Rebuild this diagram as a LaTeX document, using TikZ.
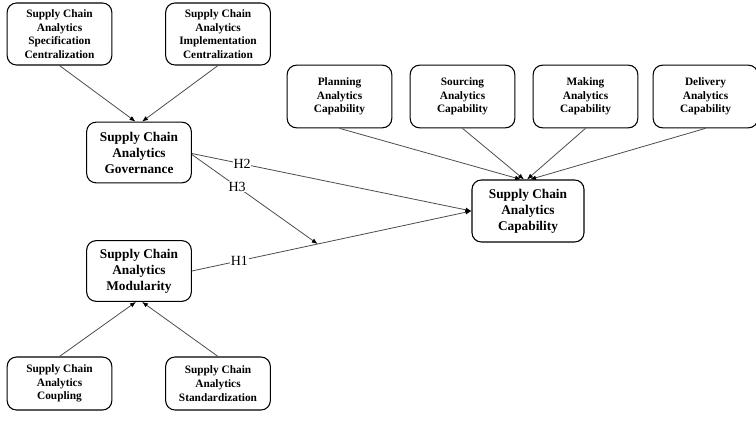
\documentclass[tikz,border=0pt]{standalone}
\usepackage{fontspec}
\setmainfont{Liberation Serif}
\usetikzlibrary{calc, arrows.meta}

\tikzset{
	box/.style={draw, thick, rounded corners=7pt, align=center, inner sep=1pt,
		font=\bfseries\fontsize{8.5}{10.3}\selectfont,
		minimum width=78.5pt, minimum height=46.5pt},
	bigbox/.style={box, font=\bfseries\fontsize{10}{12}\selectfont},
	link/.style={gray!60!black, semithick, -{Latex[black, length=4.5pt, width=3.5pt]}},
	hyp/.style={fill=white, text=black, inner sep=0.5pt, font=\fontsize{10.5}{12}\selectfont}
}

\begin{document}
\begin{tikzpicture}[x=0.75pt, y=-0.75pt]
\useasboundingbox (0,0) rectangle (756,421);

%Hallinta
\node[box] (spec) at (59.5,34) {Supply Chain\\Analytics\\Specification\\Centralization};
\node[box] (impl) at (218,34) {Supply Chain\\Analytics\\Implementation\\Centralization};
\node[bigbox, minimum height=45.5pt] (gov) at (139,152.5) {Supply Chain\\Analytics\\Governance};

%Modulaarisuus
\node[bigbox, minimum height=45.5pt] (mod) at (139,271) {Supply Chain\\Analytics\\Modularity};
\node[box, minimum height=39.75pt] (coup) at (59.5,383.5) {Supply Chain\\Analytics\\Coupling};
\node[box, minimum height=39.75pt] (std) at (218,383.5) {Supply Chain\\Analytics\\Standardization};

%Kyvykkyys
\node[bigbox, minimum width=84pt] (cap) at (528,211) {Supply Chain\\Analytics\\Capability};
\node[box, minimum height=47pt] (plan) at (339.5,96.5) {Planning\\Analytics\\Capability};
\node[box, minimum height=47pt] (sour) at (462.5,96.5) {Sourcing\\Analytics\\Capability};
\node[box, minimum height=47pt] (make) at (585.5,96.5) {Making\\Analytics\\Capability};
\node[box, minimum height=47pt] (deli) at (705.5,96.5) {Delivery\\Analytics\\Capability};

%Nuolet
\draw[link] (spec.south) -- ($(gov.north)+(-3.5,0)$);
\draw[link] (impl.south) -- ($(gov.north)+(3,0)$);
\draw[link] (coup.north) -- ($(mod.south)+(-3,0)$);
\draw[link] (std.north) -- ($(mod.south)+(3,0)$);
\foreach \v/\s in {plan/-7, sour/-4, make/-1, deli/2}
	\draw[link] (\v.south) -- ($(cap.north)+(\s,0)$);

%Hypoteesit
\draw[link] (mod.east) -- node[hyp, pos=0.17] {H1} coordinate[pos=0.45] (mid) (cap.west);
\draw[link] ($(gov.east)+(0,1)$) -- node[hyp, pos=0.18] {H2} (cap.west);
\draw[link] ($(gov.east)+(0,2)$) -- node[hyp, pos=0.36] {H3} (mid);

\end{tikzpicture}
\end{document}
